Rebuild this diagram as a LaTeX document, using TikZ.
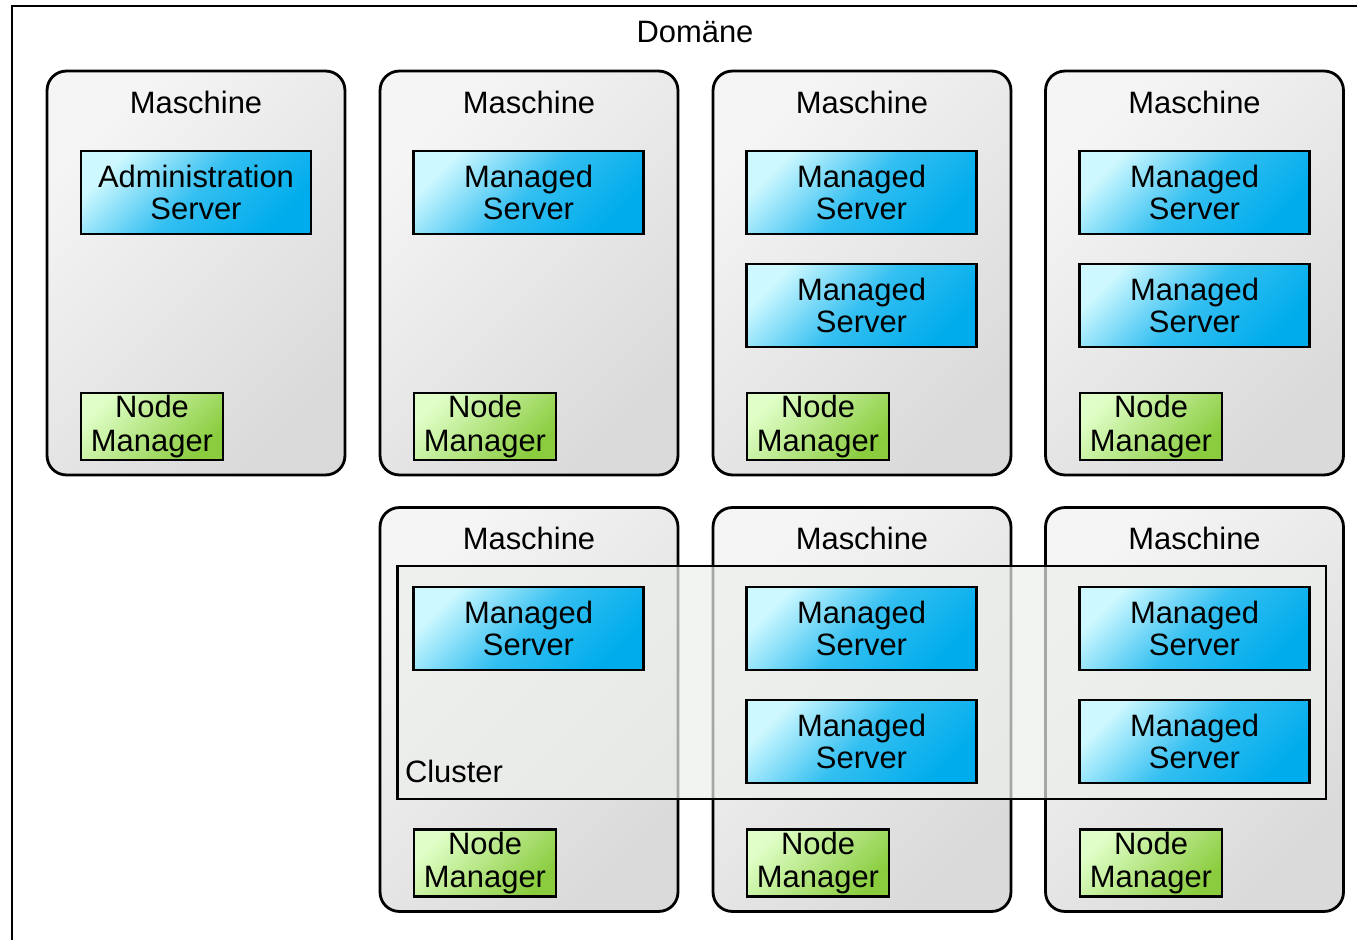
\documentclass[tikz,border=0pt]{standalone}
\usepackage{fontspec}
\setmainfont{Liberation Sans}
\usetikzlibrary{positioning}
\definecolor{srvlight}{RGB}{205,248,255}
\definecolor{srvdark}{RGB}{0,172,236}
\definecolor{nmlight}{RGB}{224,255,200}
\definecolor{nmdark}{RGB}{138,204,62}
\definecolor{mslight}{RGB}{245,245,245}
\definecolor{msdark}{RGB}{218,218,218}
\definecolor{clfill}{RGB}{236,239,236}
\newcommand{\dgfont}{\fontsize{17.6}{18.7}\selectfont}
\newcommand{\nmfont}{\fontsize{17.6}{19.2}\selectfont}
\tikzset{
  masch/.style={rounded corners=11pt, draw=black, line width=1.6pt,
    top color=mslight, bottom color=msdark, shading angle=45,
    minimum width=5.96cm, minimum height=8.08cm, inner sep=0pt},
  maschlbl/.style={font=\dgfont, inner sep=0pt},
  srv/.style={draw=black, line width=1.5pt, top color=srvlight,
    bottom color=srvdark, middle color=srvdark!75!srvlight, shading angle=45,
    minimum width=4.6cm, minimum height=1.66cm, inner sep=0pt,
    align=center, font=\dgfont},
  nmgr/.style={draw=black, line width=1.5pt, top color=nmlight,
    bottom color=nmdark, shading angle=45,
    minimum width=2.84cm, minimum height=1.34cm, inner sep=0pt,
    align=center, font=\nmfont},
  clus/.style={draw=black, line width=1.6pt, fill=clfill, fill opacity=0.7,
    minimum width=18.58cm, minimum height=4.66cm, inner sep=0pt},
}
\begin{document}
\begin{tikzpicture}[x=0.02cm, y=-0.02cm]
\useasboundingbox (0,0) rectangle (1357,940);
\clip (0,0) rectangle (1357,940);

% Domain frame
\draw[line width=1.7pt] (12,960) |- (1380,6);
\node[maschlbl] (dlbl) at (695,32) {Domäne};

% Machines, upper row
\node[masch] (m1) at (196,273) {};
\node[masch] (m2) at (529,273) {};
\node[masch] (m3) at (862,273) {};
\node[masch] (m4) at (1194.5,273) {};
% Machines, lower row
\node[masch] (m5) at (529,709.5) {};
\node[masch] (m6) at (862,709.5) {};
\node[masch] (m7) at (1194.5,709.5) {};

\node[maschlbl, below=0.42cm of m1.north] (m1lbl) {Maschine};
\node[maschlbl, below=0.42cm of m2.north] (m2lbl) {Maschine};
\node[maschlbl, below=0.42cm of m3.north] (m3lbl) {Maschine};
\node[maschlbl, below=0.42cm of m4.north] (m4lbl) {Maschine};
\node[maschlbl, below=0.42cm of m5.north] (m5lbl) {Maschine};
\node[maschlbl, below=0.42cm of m6.north] (m6lbl) {Maschine};
\node[maschlbl, below=0.42cm of m7.north] (m7lbl) {Maschine};

% Cluster
\node[clus] (cl) at (861.5,682.5) {};
\node[maschlbl, above right=0.34cm and 0.18cm of cl.south west] (cllbl) {Cluster};

% Servers
\node[srv] (s1) at (196,192.5) {Administration\\Server};
\node[srv] (s2) at (528.5,192.5) {Managed\\Server};
\node[srv] (s3) at (861.5,192.5) {Managed\\Server};
\node[srv] (s4) at (861.5,305.5) {Managed\\Server};
\node[srv] (s5) at (1194.5,192.5) {Managed\\Server};
\node[srv] (s6) at (1194.5,305.5) {Managed\\Server};
\node[srv] (s7) at (528.5,628.5) {Managed\\Server};
\node[srv] (s8) at (861.5,628.5) {Managed\\Server};
\node[srv] (s9) at (861.5,741.5) {Managed\\Server};
\node[srv] (s10) at (1194.5,628.5) {Managed\\Server};
\node[srv] (s11) at (1194.5,741.5) {Managed\\Server};

% Node managers
\node[nmgr] (n1) at (152,426.5) {Node\\Manager};
\node[nmgr] (n2) at (485,426.5) {Node\\Manager};
\node[nmgr] (n3) at (818,426.5) {Node\\Manager};
\node[nmgr] (n4) at (1151,426.5) {Node\\Manager};
\node[nmgr] (n5) at (485,863) {Node\\Manager};
\node[nmgr] (n6) at (818,863) {Node\\Manager};
\node[nmgr] (n7) at (1151,863) {Node\\Manager};
\end{tikzpicture}
\end{document}
